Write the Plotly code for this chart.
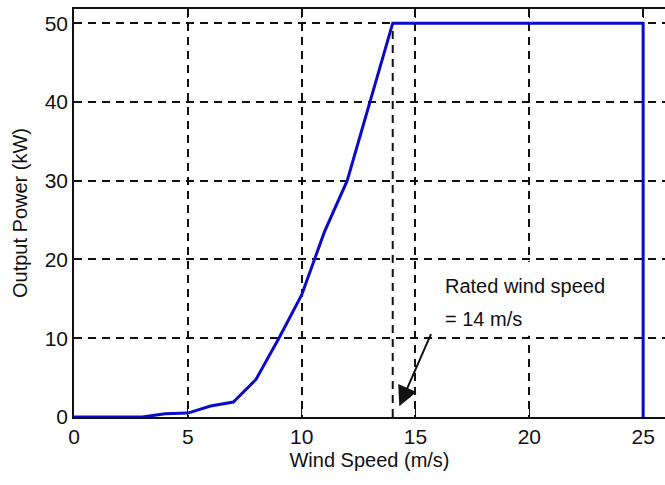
import plotly.graph_objects as go

wind_speed = [0, 1, 2, 3, 4, 5, 6, 7, 8, 9, 10, 11, 12, 13, 14, 25, 25]
power_kw = [0, 0, 0, 0, 0.4, 0.5, 1.4, 1.9, 4.8, 10, 15.5, 23.5, 30, 40, 50, 50, 0]

x_ticks = [0, 5, 10, 15, 20, 25]
y_ticks = [0, 10, 20, 30, 40, 50]
rated_speed = 14
rated_power = 50
label_lines = ["Rated wind speed", "= 14 m/s"]

FONT = "Liberation Sans, Arial, sans-serif"

fig = go.Figure()

# rated wind speed dashed marker line
fig.add_trace(go.Scatter(
    x=[rated_speed, rated_speed], y=[0, rated_power], mode="lines",
    line=dict(color="#111", width=2, dash="8px,6px"), hoverinfo="skip", showlegend=False))

fig.add_trace(go.Scatter(
    x=wind_speed, y=power_kw, mode="lines",
    line=dict(color="#0a0ac8", width=3), showlegend=False))

# white label background hiding vertical grid lines
fig.add_shape(type="rect", x0=15.6, x1=24.5, y0=10.3, y1=19.7, xref="x", yref="y",
              fillcolor="white", line=dict(width=0), layer="between")

fig.add_annotation(
    x=14.29, y=1.35, ax=15.71, ay=10.7, xref="x", yref="y", axref="x", ayref="y",
    text="", showarrow=True, arrowhead=2, arrowsize=2, arrowwidth=2, arrowcolor="#111")
fig.add_annotation(
    x=16.2, y=16.6, xref="x", yref="y", xanchor="left", yanchor="middle",
    text=label_lines[0], showarrow=False, font=dict(family=FONT, size=20, color="#111"))
fig.add_annotation(
    x=16.2, y=12.5, xref="x", yref="y", xanchor="left", yanchor="middle",
    text=label_lines[1], showarrow=False, font=dict(family=FONT, size=20, color="#111"))

fig.update_layout(
    width=665, height=485,
    margin=dict(l=74, r=0, t=9, b=68),
    paper_bgcolor="white", plot_bgcolor="white",
    font=dict(family=FONT, size=21, color="#111"),
)
fig.update_xaxes(
    range=[0, 25.96], tickvals=x_ticks, ticks="inside", ticklen=9, tickcolor="#111",
    showline=True, linecolor="#111", linewidth=1.5, mirror="ticks",
    showgrid=True, gridcolor="#111", gridwidth=2, griddash="8px,6px",
    zeroline=False, title=dict(text="Wind Speed (m/s)", standoff=6, font=dict(size=20)),
    tickfont=dict(size=21))
fig.update_yaxes(
    range=[0, 51.8], tickvals=y_ticks, ticks="inside", ticklen=8, tickcolor="#111",
    showline=True, linecolor="#111", linewidth=1.5,
    showgrid=True, gridcolor="#111", gridwidth=2, griddash="8px,6px",
    zeroline=False, title=dict(text="Output Power (kW)", standoff=12, font=dict(size=20)),
    tickfont=dict(size=21))

fig.write_html("out.html")
